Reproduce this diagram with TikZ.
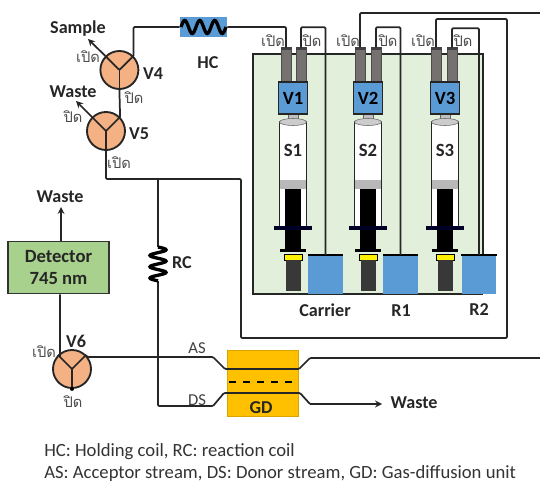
\documentclass[tikz,border=0pt]{standalone}
\usepackage{fontspec}
\setmainfont{Carlito}
\newfontfamily\thaifont[Script=Thai]{Loma}
\definecolor{valveorange}{HTML}{F4B183}
\definecolor{pumpblue}{HTML}{5B9BD5}
\definecolor{panelgreen}{HTML}{E2EFDA}
\definecolor{detgreen}{HTML}{A9D18E}
\definecolor{gdyellow}{HTML}{FFC000}
\definecolor{tubegray}{HTML}{767171}
\tikzset{
  pipe/.style={line width=1.3pt, color=black!85, rounded corners=0.8pt},
  thin pipe/.style={line width=1.1pt, color=black!85},
  outlet/.style={pipe, ->, >=stealth},
  valve/.style={circle, draw=black!85, line width=1.4pt, fill=valveorange, minimum size=28.5pt, inner sep=0pt},
  tube/.style={draw=black!70, line width=0.6pt, fill=tubegray, minimum width=7.5pt, minimum height=26pt, inner sep=0pt},
  pumphead/.style={draw=black!85, line width=1.1pt, fill=pumpblue, minimum width=22pt, minimum height=24pt, inner sep=0pt, font=\bfseries\fontsize{14}{14}\selectfont},
  bottle/.style={fill=pumpblue, minimum width=26pt, minimum height=29pt, inner sep=0pt},
  tag/.style={font=\bfseries\fontsize{13.6}{14}\selectfont, text=black!85, inner sep=0pt},
  state/.style={font=\thaifont\fontsize{11}{11}\selectfont, text=black!70, inner sep=0pt},
  stream/.style={font=\fontsize{12.5}{13}\selectfont, text=black!75, inner sep=0pt},
  note/.style={font=\fontsize{14}{14}\selectfont, text=black!80, anchor=west, inner sep=0pt},
  coil/.style={line width=2.5pt, color=black}
}
\begin{document}
\begin{tikzpicture}[x=0.75pt, y=-0.75pt]
  \useasboundingbox (0, 0) rectangle (540, 485);

  % pump panel
  \fill[panelgreen] (253, 54) rectangle (483, 294);
  \draw[thin pipe] (483, 294) -- (253, 294) -- (253, 54) -- (483, 54) -- (483, 255);

  % bottles
  \node[bottle] (carrier) at (325.5, 274.5) {};
  \node[bottle] (ronebot) at (400.5, 274.5) {};
  \node[bottle] (rtwobot) at (479, 274.5) {};
  \draw[line width=1.4pt] (carrier.north west) -- (carrier.north east);
  \draw[line width=1.4pt] (ronebot.north west) -- (ronebot.north east);
  \draw[line width=1.4pt] (rtwobot.north west) -- (rtwobot.north east);

  % syringe pumps
  \foreach \x/\n/\l/\r in {293/1/286/301, 368/2/360/376, 445/3/436/452} {
    \draw[black!60, fill=black!25] (\x-5, 113) rectangle (\x+5, 122);
    \draw[black!85, line width=1pt, fill=white] (\x-13.5, 122) rectangle (\x+13.5, 227);
    \draw[black!60, fill=black!20] (\x, 122) ellipse (13.5 and 3.5);
    \fill[black!28] (\x-13, 180) rectangle (\x+13, 189);
    \fill[black] (\x-8, 189) rectangle (\x+8, 252);
    \fill[black!85!blue] (\x-19, 226.5) rectangle (\x+19, 230);
    \fill[black] (\x-13, 249.5) rectangle (\x+13, 252);
    \draw[black, line width=0.6pt, fill=yellow] (\x-9, 254) rectangle (\x+9, 260);
    \fill[black!78] (\x-7.5, 260) rectangle (\x+7.5, 290.5);
    \node[tube] (v\n a) at (\l, 65) {};
    \node[tube] (v\n b) at (\r, 65) {};
    \fill[black!75] (\l-5, 47.5) rectangle (\l+5, 50.5);
    \fill[black!75] (\r-5, 47.5) rectangle (\r+5, 50.5);
    \node[pumphead] (v\n) at (\x, 98) {V\n};
    \node[tag, font=\bfseries\fontsize{14}{14}\selectfont] (s\n) at (\x, 150) {S\n};
  }

  % valves
  \node[valve] (vfour) at (119.4, 70) {};
  \node[valve] (vfive) at (106, 131) {};
  \node[valve] (vsix) at (72, 369) {};
  \foreach \v in {vfour, vfive, vsix} {
    \draw[pipe] (\v.135) -- (\v.center) -- (\v.45);
    \draw[pipe] (\v.center) -- (\v.south);
  }
  \node[tag] (vfourtag) at (153, 74) {V4};
  \node[tag] (vfivetag) at (139, 134) {V5};
  \node[tag] (vsixtag) at (76, 341) {V6};

  % holding coil
  \node[fill=pumpblue, minimum width=35.5pt, minimum height=15pt, inner sep=0pt] (hc) at (203.5, 27) {};
  \node[tag] (hctag) at (208, 63) {HC};

  % free ends and bends
  \coordinate (sampleend) at (88, 39);
  \coordinate (wasteend) at (76, 101);
  \coordinate (vfivebend) at (106, 179);
  \coordinate (rctop) at (158, 179);
  \coordinate (rcin) at (158, 247);
  \coordinate (rcout) at (158, 281);
  \coordinate (dsbend) at (158, 406);
  \coordinate (dsone) at (213, 406);
  \coordinate (dstwo) at (224, 393);
  \coordinate (dsthree) at (300, 393);
  \coordinate (dsfour) at (310, 404);
  \coordinate (dsend) at (382, 404);
  \coordinate (asleft) at (87, 357);
  \coordinate (asone) at (213, 357);
  \coordinate (astwo) at (225, 369);
  \coordinate (asthree) at (299, 369);
  \coordinate (asfour) at (310, 358);
  \coordinate (asend) at (540, 358);
  \coordinate (vtwoend) at (540, 13);
  \coordinate (backtop) at (507, 19);
  \coordinate (backbot) at (241, 338);
  \coordinate (detdrop) at (60, 357);
  \coordinate (detout) at (61, 207);

  % gas-diffusion unit
  \node[fill=gdyellow, draw=gdyellow!85!black, line width=0.3pt, minimum width=53.5pt, minimum height=49.5pt, inner sep=0pt] (gd) at (263, 383) {};
  \node[tag] (gdtag) at (261, 408) {GD};
  \draw[line width=1.2pt, dash pattern=on 5.5pt off 5pt] (229, 382) -- (293, 382);

  % detector
  \node[draw=black!80, line width=1.4pt, fill=detgreen, minimum width=76pt, minimum height=39pt, inner sep=0pt, align=center, font=\bfseries\fontsize{14}{17}\selectfont, text=black!85] (det) at (58.5, 267.5) {Detector\\745 nm};
  \node[tag] (detwaste) at (60, 197) {Waste};

  % tubing
  \draw[pipe] (vfour.45) |- (hc.west);
  \draw[pipe] (hc.east) -| (v1a.north);
  \draw[pipe] (vfour.south) -- (vfive.45);
  \draw[outlet] (vfour.135) -- (sampleend);
  \draw[outlet] (vfive.135) -- (wasteend);
  \draw[pipe] (v1b.north) -- ++(0, -20) -| (carrier.north);
  \draw[pipe] (v2a.north) |- (vtwoend);
  \draw[pipe] (v2b.north) -- ++(0, -20) -| (ronebot.north);
  \draw[pipe] (v3b.north) -- ++(0, -19) -| (rtwobot.north);
  \draw[pipe] (v3a.north) |- (backtop) |- (backbot) |- (vfivebend) -- (vfive.south);
  \draw[pipe] (rctop) -- (rcin);
  \draw[pipe] (rcout) -- (dsbend) -- (dsone) -- (dstwo) -- (dsthree) -- (dsfour);
  \draw[outlet] (dsfour) -- (dsend);
  \node[tag] (gdwaste) at (414, 403) {Waste};
  \draw[pipe] (vsix.45) -- (asleft) -- (asone) -- (astwo) -- (asthree) -- (asfour) -- (asend);
  \draw[pipe] (det.south -| detdrop) -- (detdrop) -- (vsix.135);
  \draw[outlet] (det.north -| detout) -- (detout);
  \fill[black] (vsix.south) circle (2);

  % coils
  \draw[coil] plot[domain=0:3, samples=61, smooth] ({181 + 15*\x}, {27 - 6.5*sin(360*\x)});
  \draw[coil] plot[domain=0:3, samples=61, smooth] ({158 + 8*sin(360*\x)}, {247 + 11.3*\x});
  \node[tag] (rctag) at (182, 263) {RC};

  % labels
  \node[tag] (sampletag) at (78, 29) {Sample};
  \node[tag] (wastetag) at (73, 92) {Waste};
  \node[tag] (cartag) at (325, 310) {Carrier};
  \node[tag] (ronetag) at (401, 311) {R1};
  \node[tag] (rtwotag) at (479, 310) {R2};
  \node[stream] (astag) at (197, 348) {AS};
  \node[stream] (dstag) at (197, 400) {DS};

  \node[state] (sopen) at (88, 57) {เปิด};
  \node[state] (sshut) at (134, 98) {ปิด};
  \node[state] (wshut) at (73, 117) {ปิด};
  \node[state] (wopen) at (119, 163) {เปิด};
  \node[state] (vsixopen) at (44, 352) {เปิด};
  \node[state] (vsixshut) at (73, 402) {ปิด};
  \node[state] (vopena) at (273, 41) {เปิด};
  \node[state] (vshuta) at (312, 41) {ปิด};
  \node[state] (vopenb) at (348, 41) {เปิด};
  \node[state] (vshutb) at (388, 41) {ปิด};
  \node[state] (vopenc) at (423, 41) {เปิด};
  \node[state] (vshutc) at (463, 41) {ปิด};

  % legend
  \node[note] (noteone) at (44, 452) {HC: Holding coil, RC: reaction coil};
  \node[note] (notetwo) at (44, 474) {AS: Acceptor stream, DS: Donor stream, GD: Gas-diffusion unit};
\end{tikzpicture}
\end{document}
